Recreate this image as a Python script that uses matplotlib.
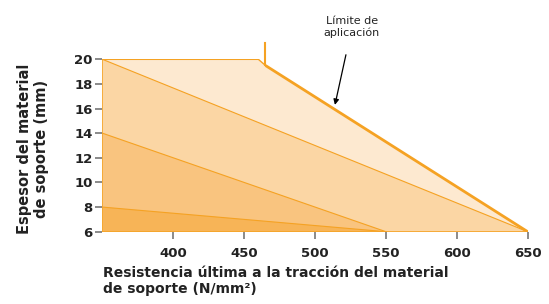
import numpy as np
import matplotlib
matplotlib.use("Agg")
import matplotlib.pyplot as plt

# band boundaries (x = N/mm2, y = mm)
x_lim = [350, 460, 465, 650]
y_lim = [20, 20, 19.5, 6]
x_b3 = [350, 650]
y_b3 = [20, 6]
x_b2 = [350, 550]
y_b2 = [14, 6]
x_b1 = [350, 550]
y_b1 = [8, 6]

xticks = [400, 450, 500, 550, 600, 650]
yticks = [6, 8, 10, 12, 14, 16, 18, 20]

fills = ["#FDE9D0", "#FBD6A4", "#F9C47F", "#F7B457"]
edge = "#F5A223"
txt = "#222222"

fig = plt.figure(figsize=(5.49, 3.04), dpi=100)
ax = fig.add_axes([0.1867, 0.2378, 0.7745, 0.567])

def band(xs, ys, color):
    px = [xs[0]] + list(xs) + [xs[-1]]
    py = [6] + list(ys) + [6]
    ax.fill(px, py, color=color, lw=0, zorder=1)

band(x_lim, y_lim, fills[0])
band(x_b3, y_b3, fills[1])
band(x_b2, y_b2, fills[2])
band(x_b1, y_b1, fills[3])

ax.plot(x_lim[:3], y_lim[:3], color=edge, lw=1.0, zorder=2)
ax.plot(x_lim[2:], y_lim[2:], color=edge, lw=2.0, zorder=3, solid_capstyle="butt")
ax.plot(x_b3, y_b3, color=edge, lw=0.8, zorder=2)
ax.plot(x_b2, y_b2, color=edge, lw=0.8, zorder=2)
ax.plot(x_b1, y_b1, color=edge, lw=0.8, zorder=2)
ax.plot([350, 350], [6, 20], color=edge, lw=1.2, zorder=2)
ax.plot([350, 650], [6, 6], color=edge, lw=1.2, zorder=2)
# small vertical marker above the kink
ax.plot([465, 465], [19.5, 21.3], color=edge, lw=1.5, clip_on=False, zorder=3)

ax.set_xlim(350, 650)
ax.set_ylim(6, 20)
for s in ax.spines.values():
    s.set_visible(False)

ax.set_xticks(xticks)
ax.set_yticks(yticks)
ax.tick_params(axis="both", colors="#777777", length=5, width=1.2, labelcolor=txt)
ax.tick_params(axis="x", pad=6)
ax.tick_params(axis="y", pad=2)
for lab in ax.get_xticklabels() + ax.get_yticklabels():
    lab.set_fontweight("bold")
    lab.set_fontsize(9.5)

ax.annotate("Límite de\naplicación", xy=(514, 16.3), xytext=(526, 22.6),
            ha="center", va="center", fontsize=8, color=txt,
            arrowprops=dict(arrowstyle="-|>", color="black", lw=0.9,
                            mutation_scale=8, shrinkA=10, shrinkB=0),
            annotation_clip=False)

fig.text(0.187, 0.076, "Resistencia última a la tracción del material\nde soporte (N/mm²)",
         ha="left", va="center", fontsize=10, fontweight="bold", color=txt,
         linespacing=1.15)
fig.text(0.06, 0.51, "Espesor del material\nde soporte (mm)", rotation=90,
         ha="center", va="center", fontsize=10.5, fontweight="bold", color=txt,
         linespacing=1.1)

fig.savefig("out.png", dpi=100)
